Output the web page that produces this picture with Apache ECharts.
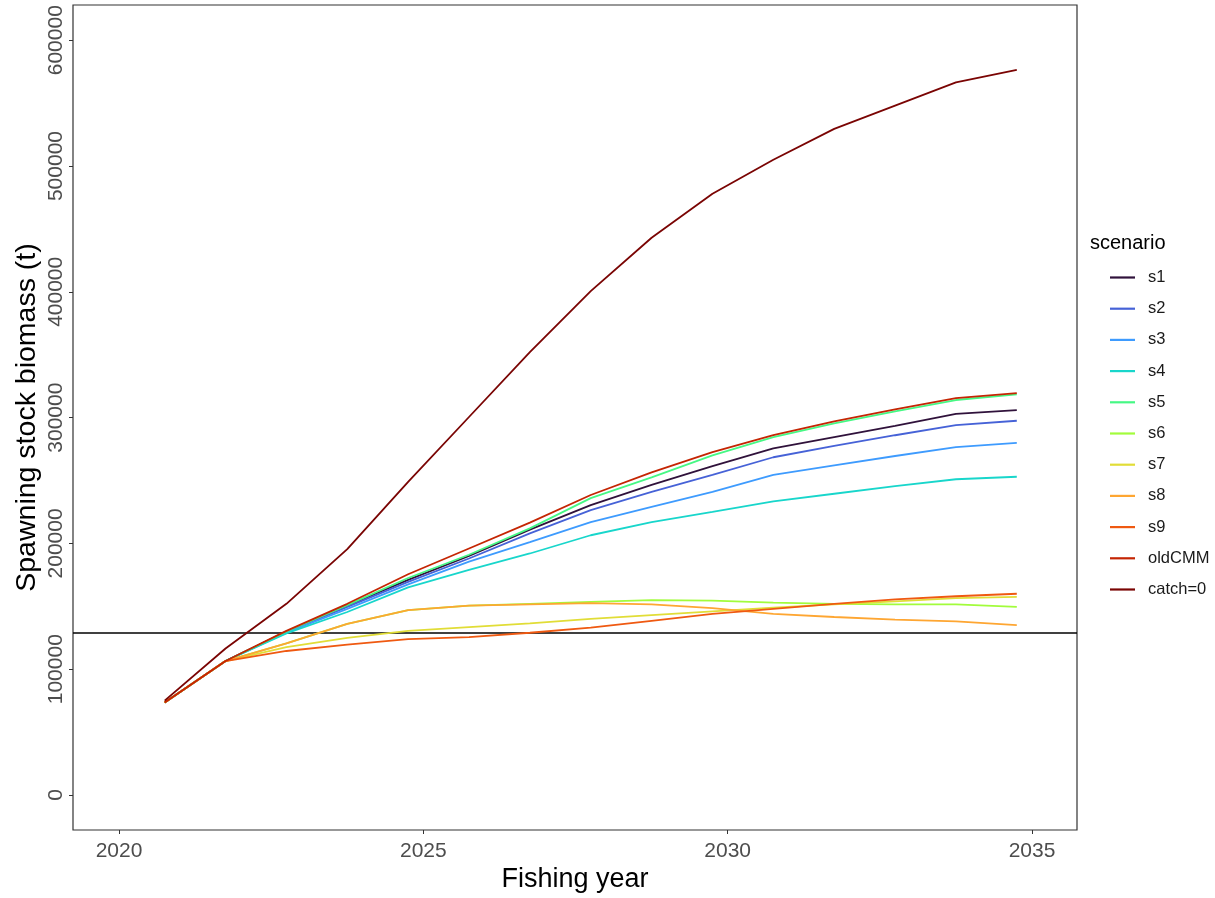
<!DOCTYPE html>
<html>
<head>
<meta charset="utf-8">
<script src="https://cdn.jsdelivr.net/npm/echarts@6/dist/echarts.min.js"></script>
<style>
html,body{margin:0;padding:0;background:#fff;}
#chart{width:1215px;height:898px;}
</style>
</head>
<body>
<div id="chart"></div>
<script>
const years = [2020.75, 2021.75, 2022.75, 2023.75, 2024.75, 2025.75, 2026.75, 2027.75, 2028.75, 2029.75, 2030.75, 2031.75, 2032.75, 2033.75, 2034.75];
const scenarios = ['s1','s2','s3','s4','s5','s6','s7','s8','s9','oldCMM','catch=0'];
const colors = ['#30123B','#4662D7','#3E9BFE','#18D6CB','#46F884','#A2FC3C','#E1DD37','#FEA632','#EF5911','#C42503','#7A0403'];
// values in thousand tonnes
const s1 = [73.5, 106.5, 130, 150.5, 171, 190, 211, 230.5, 246.5, 261.5, 275.5, 284.5, 293.5, 303, 306];
const s2 = [73.5, 106.5, 129.5, 149.5, 169.5, 188, 208, 226.5, 241, 254.5, 268.5, 277.5, 286, 294, 297.5];
const s3 = [73.5, 106.5, 129, 148, 167.5, 185.5, 201, 217, 229, 241, 254.5, 262, 269.5, 276.5, 280];
const s4 = [73.5, 106.5, 128.5, 145.5, 165, 179, 192, 206.5, 217, 225, 233.5, 239.5, 245.5, 251, 253];
const s5 = [73.5, 106.5, 130, 151, 172.5, 191, 212, 236, 252.5, 270, 284.5, 295.5, 305, 314, 318.5];
const s6 = [73.5, 106.5, 120.5, 136, 147, 150.5, 152, 153.5, 155, 154.5, 153, 152, 151.5, 151.5, 149.5];
const s7 = [73.5, 106.5, 117.5, 125, 130.5, 133.5, 136.5, 140, 143, 146, 149, 151.5, 154, 156.5, 157.5];
const s8 = [73.5, 106.5, 120.5, 136, 147, 150.5, 151.5, 152.5, 151.5, 148.5, 144, 141.5, 139.5, 138, 135];
const s9 = [73.5, 106.5, 114.5, 119.5, 124, 125.5, 129, 133, 138.5, 144, 148, 152, 155.5, 158, 160];
const oldCMM = [73.5, 106.5, 130.5, 152, 175.5, 196, 216.5, 238.5, 256.5, 272.5, 286, 297, 306.5, 315.5, 319.5];
const catch0 = [75, 116.5, 152, 195.5, 249, 300.5, 352, 400.5, 443, 478, 505, 529.5, 548, 566.5, 576.5];
const seriesValues = [s1, s2, s3, s4, s5, s6, s7, s8, s9, oldCMM, catch0];
const refLine = 128800;
const xTicks = [2020, 2025, 2030, 2035];
const yTicks = [0, 100000, 200000, 300000, 400000, 500000, 600000];

const font = '"Liberation Sans", Arial, sans-serif';
const chart = echarts.init(document.getElementById('chart'));
const series = scenarios.map((name, i) => ({
  name: name,
  type: 'line',
  data: years.map((y, j) => [y, seriesValues[i][j] * 1000]),
  showSymbol: false,
  symbol: 'none',
  lineStyle: {color: colors[i], width: 1.8},
  itemStyle: {color: colors[i]},
  z: 3 + i
}));
series.push({
  name: 'ref',
  type: 'line',
  data: [],
  markLine: {
    silent: true,
    symbol: 'none',
    label: {show: false},
    lineStyle: {color: '#000', width: 1.5, type: 'solid'},
    data: [{yAxis: refLine}]
  },
  z: 20
});
chart.setOption({
  animation: false,
  textStyle: {fontFamily: font},
  title: {
    text: 'scenario', left: 1085, top: 228,
    textStyle: {fontSize: 20, fontWeight: 'normal', color: '#000', fontFamily: font}
  },
  legend: {
    data: scenarios,
    orient: 'vertical',
    left: 1105, top: 264,
    icon: 'rect',
    itemWidth: 25, itemHeight: 2.2,
    itemGap: 14.2,
    textStyle: {fontSize: 16.5, color: '#1a1a1a', lineHeight: 17, padding: [0,0,0,8], fontFamily: font}
  },
  grid: {left: 73, top: 5, width: 1004, height: 825, show: true, borderColor: '#333', borderWidth: 1.2, backgroundColor: '#fff', containLabel: false},
  xAxis: {
    type: 'value',
    min: 2019.244, max: 2035.739,
    splitLine: {show: false},
    axisLine: {show: false, onZero: false},
    axisTick: {show: true, length: 4, lineStyle: {color: '#333'}, customValues: xTicks},
    axisLabel: {fontSize: 21, color: '#4d4d4d', margin: 11, customValues: xTicks, formatter: v => String(v)},
    name: 'Fishing year', nameLocation: 'middle', nameGap: 36, nameMoveOverlap: false,
    nameTextStyle: {fontSize: 27, color: '#000', fontFamily: font}
  },
  yAxis: {
    type: 'value',
    min: -27800, max: 628000,
    splitLine: {show: false},
    axisLine: {show: false, onZero: false},
    axisTick: {show: true, length: 4, lineStyle: {color: '#333'}, customValues: yTicks},
    axisLabel: {fontSize: 21, color: '#4d4d4d', margin: 6, rotate: 90, customValues: yTicks, formatter: v => String(v)},
    name: 'Spawning stock biomass (t)', nameLocation: 'middle', nameGap: 31, nameMoveOverlap: false,
    nameTextStyle: {fontSize: 28.5, color: '#000', fontFamily: font}
  },
  series: series
});
</script>
</body>
</html>
